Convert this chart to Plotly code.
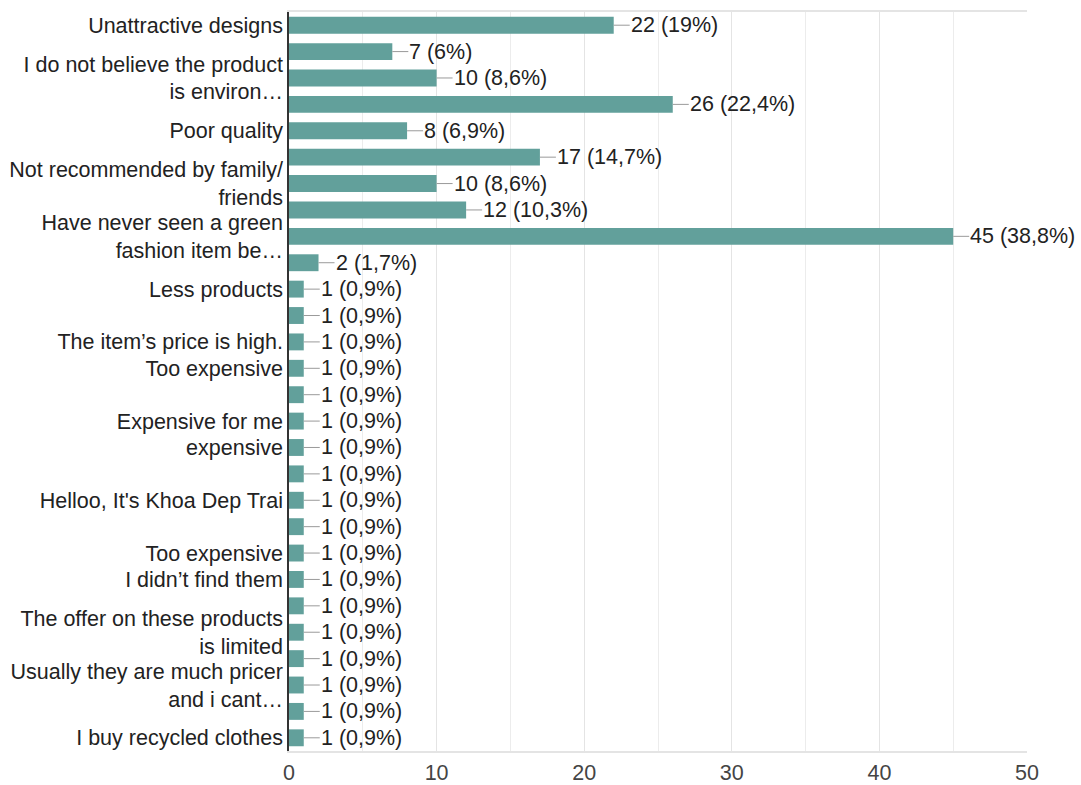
import plotly.graph_objects as go

# Survey answers, top to bottom; blank entries are answers whose text is not shown on the axis
labels = [
    "Unattractive designs",
    "",
    "I do not believe the product<br>is environ…",
    "",
    "Poor quality",
    "",
    "Not recommended by family/<br>friends",
    "",
    "Have never seen a green<br>fashion item be…",
    "",
    "Less products",
    "",
    "The item’s price is high.",
    "Too expensive",
    "",
    "Expensive for me",
    "expensive",
    "",
    "Helloo, It's Khoa Dep Trai",
    "",
    "Too expensive",
    "I didn’t find them",
    "",
    "The offer on these products<br>is limited",
    "",
    "Usually they are much pricer<br>and i cant…",
    "",
    "I buy recycled clothes",
]
counts = [22, 7, 10, 26, 8, 17, 10, 12, 45, 2,
          1, 1, 1, 1, 1, 1, 1, 1, 1, 1, 1, 1, 1, 1, 1, 1, 1, 1]
respondents = 116

x_ticks = [0, 10, 20, 30, 40, 50]

FONT = "Liberation Sans, Arial, Helvetica, sans-serif"
BAR = "#62a09b"


def value_label(n):
    pct = round(100 * n / respondents, 1)
    txt = f"{pct:.1f}".replace(".", ",")
    if txt.endswith(",0"):
        txt = txt[:-2]
    return f"{n} ({txt}%)"


positions = list(range(len(counts)))

fig = go.Figure(
    go.Bar(
        x=counts,
        y=positions,
        orientation="h",
        marker=dict(color=BAR, line=dict(width=0)),
        hoverinfo="skip",
    )
)

for pos, n in zip(positions, counts):
    fig.add_annotation(
        x=n, y=pos, xref="x", yref="y",
        text=value_label(n),
        showarrow=True, arrowhead=0, arrowwidth=1, arrowcolor="#9a9a9a",
        ax=16, ay=0, xanchor="left", yanchor="middle",
        borderpad=0,
        font=dict(family=FONT, size=21.5, color="#222222"),
    )

fig.update_layout(
    width=1081, height=785,
    margin=dict(l=289, r=54, t=12, b=34),
    paper_bgcolor="white", plot_bgcolor="white",
    bargap=0.36,
    showlegend=False,
    font=dict(family=FONT, size=21.5, color="#222222"),
)

fig.update_xaxes(
    automargin=False,
    range=[0, 50],
    tickvals=x_ticks,
    ticktext=[str(v) for v in x_ticks],
    showgrid=True, gridcolor="#e4e4e4", gridwidth=1,
    minor=dict(dtick=5, showgrid=True, gridcolor="#ececec", gridwidth=1),
    showline=True, linecolor="#e4e4e4", linewidth=2, mirror=True,
    zeroline=False,
    ticks="",
    ticklabelstandoff=1,
    tickfont=dict(family=FONT, size=21.5, color="#444444"),
)

fig.update_yaxes(
    automargin=False,
    range=[len(counts) - 0.5, -0.5],
    tickvals=positions,
    ticktext=labels,
    showgrid=False,
    showline=True, linecolor="#333333", linewidth=1.5,
    zeroline=False,
    ticks="",
    tickfont=dict(family=FONT, size=21.5, color="#222222"),
)

fig.write_html("out.html")
